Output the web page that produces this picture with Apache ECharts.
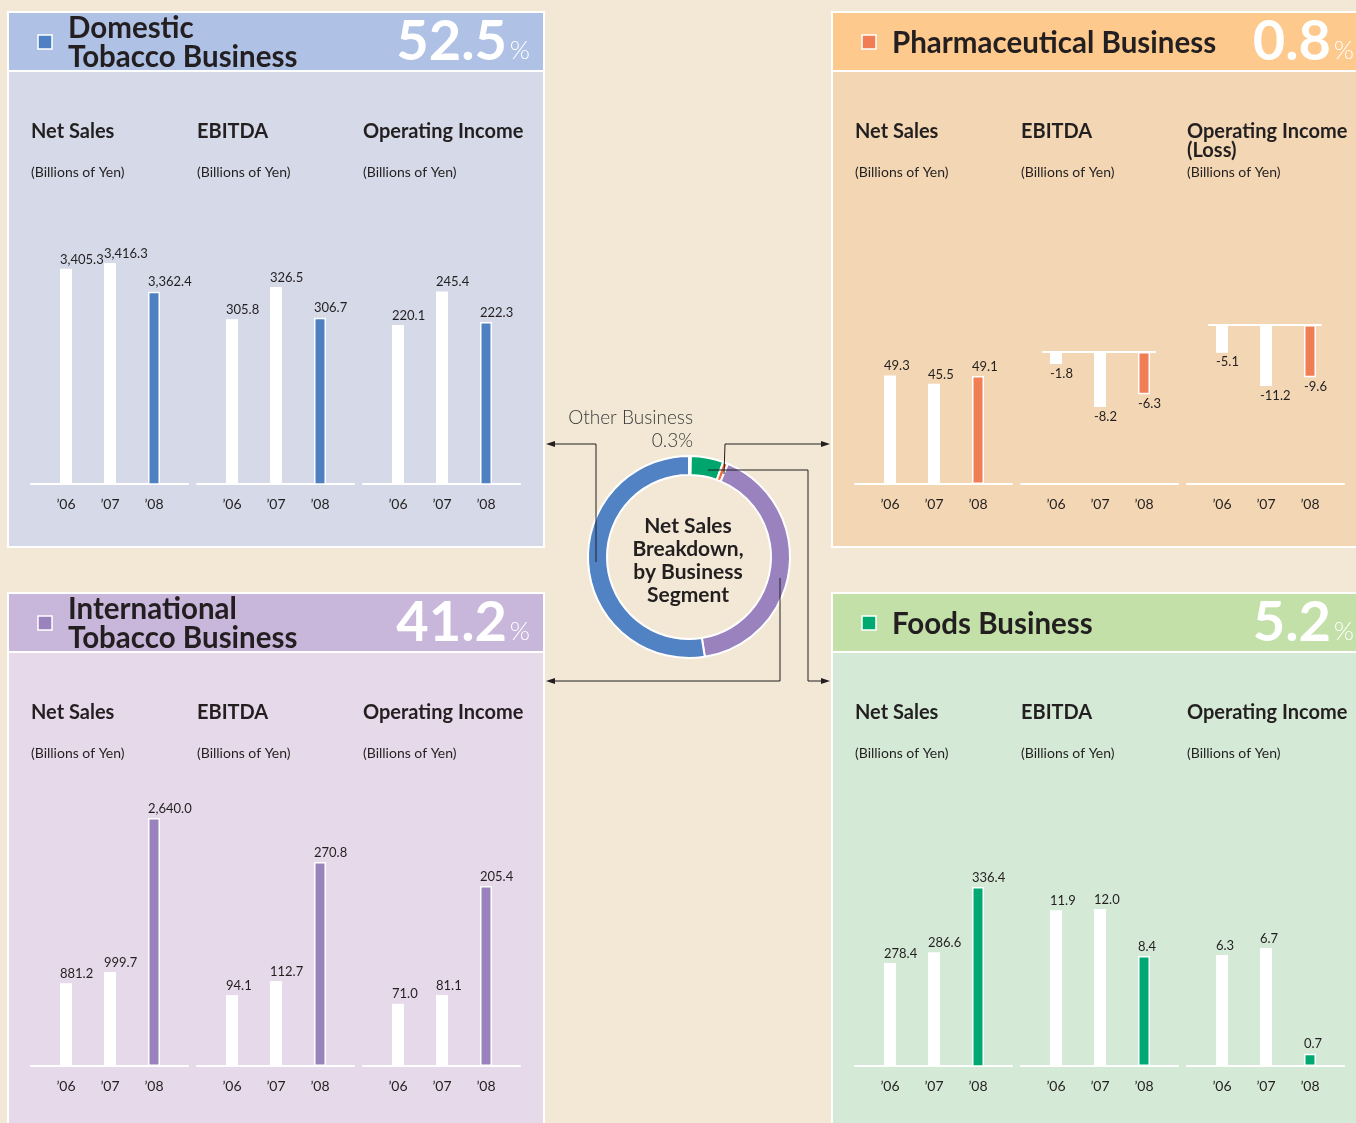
<!DOCTYPE html>
<html>
<head>
<meta charset="utf-8">
<style>
  html, body { margin: 0; padding: 0; background: #F2E8D5; }
  #chart { width: 1356px; height: 1123px; }
</style>
<script src="https://cdn.jsdelivr.net/npm/echarts@6/dist/echarts.min.js"></script>
</head>
<body>
<div id="chart"></div>
<script>
// fiscal years shown under every mini chart
const years = ['\u201906', '\u201907', '\u201908']

// Domestic Tobacco
const domesticNetSales = [3405.3, 3416.3, 3362.4]
const domesticEbitda = [305.8, 326.5, 306.7]
const domesticOpIncome = [220.1, 245.4, 222.3]
// Pharmaceutical
const pharmaNetSales = [49.3, 45.5, 49.1]
const pharmaEbitda = [-1.8, -8.2, -6.3]
const pharmaOpIncome = [-5.1, -11.2, -9.6]
// International Tobacco
const intlNetSales = [881.2, 999.7, 2640.0]
const intlEbitda = [94.1, 112.7, 270.8]
const intlOpIncome = [71.0, 81.1, 205.4]
// Foods
const foodsNetSales = [278.4, 286.6, 336.4]
const foodsEbitda = [11.9, 12.0, 8.4]
const foodsOpIncome = [6.3, 6.7, 0.7]

// net sales breakdown (donut), clockwise from 12 o'clock
const segmentNames = ['Other Business', 'Foods Business', 'Pharmaceutical Business', 'International Tobacco Business', 'Domestic Tobacco Business']
const segmentShares = [0.3, 5.2, 0.8, 41.2, 52.5]

const FONT = 'Lato'
const INK = '#231F20'
const UNIT = '(Billions of Yen)'

const panels = [
  {
    title: ['Domestic', 'Tobacco Business'], share: segmentShares[4],
    x: 8, y: 12, w: 536, h: 535, head: '#AFC1E5', body: '#D5D9E8', color: '#4F81C2',
    cols: [31, 197, 363], base: 484,
    charts: [
      { name: ['Net Sales'], data: domesticNetSales, min: 3000, max: 3471 },
      { name: ['EBITDA'], data: domesticEbitda, min: 200, max: 360.5 },
      { name: ['Operating Income'], data: domesticOpIncome, min: 100, max: 288.8 }
    ]
  },
  {
    title: ['Pharmaceutical Business'], share: segmentShares[2],
    x: 832, y: 12, w: 530, h: 535, head: '#FDC98D', body: '#F3D7B4', color: '#F07D54',
    cols: [855, 1021, 1187], base: 484,
    charts: [
      { name: ['Net Sales'], data: pharmaNetSales, min: 0, max: 113.6 },
      { name: ['EBITDA'], data: pharmaEbitda, min: -19.7, max: 0, zeroTop: 352 },
      { name: ['Operating Income', '(Loss)'], data: pharmaOpIncome, min: -29.2, max: 0, zeroTop: 325 }
    ]
  },
  {
    title: ['International', 'Tobacco Business'], share: segmentShares[3],
    x: 8, y: 593, w: 536, h: 540, head: '#C8B6DB', body: '#E6DAEA', color: '#9A82BD',
    cols: [31, 197, 363], base: 1066,
    charts: [
      { name: ['Net Sales'], data: intlNetSales, min: 0, max: 2662 },
      { name: ['EBITDA'], data: intlEbitda, min: 0, max: 332 },
      { name: ['Operating Income'], data: intlOpIncome, min: 0, max: 285.4 }
    ]
  },
  {
    title: ['Foods Business'], share: segmentShares[1],
    x: 832, y: 593, w: 530, h: 540, head: '#C4E0A9', body: '#D5EAD6', color: '#00A971',
    cols: [855, 1021, 1187], base: 1066,
    charts: [
      { name: ['Net Sales'], data: foodsNetSales, min: 200, max: 390.5 },
      { name: ['EBITDA'], data: foodsEbitda, min: 0, max: 19.1 },
      { name: ['Operating Income'], data: foodsOpIncome, min: 0, max: 14.2 }
    ]
  }
]

const fmt = v => v.toLocaleString('en-US', { minimumFractionDigits: 1, maximumFractionDigits: 1 })

const grid = []
const xAxis = []
const yAxis = []
const series = []
const graphic = []

function addGrid(g, x, y) {
  grid.push(g)
  const i = grid.length - 1
  xAxis.push(Object.assign({ gridIndex: i, type: 'category', data: years }, x))
  yAxis.push(Object.assign({ gridIndex: i, type: 'value', show: false }, y))
  return i
}

function addChart(panel, left, c) {
  const base = panel.base
  // long white baseline under each chart
  addGrid({ left: left, top: base - 10, width: 157, height: 10 }, {
    axisLine: { lineStyle: { color: '#fff', width: 2 } },
    axisTick: { show: false }, axisLabel: { show: false }
  }, {})

  const top = c.zeroTop || base - 250
  const gi = addGrid({ left: left + 13, top: top, width: 132, height: base - top }, {
    position: 'bottom',
    axisLine: { show: false, onZero: false },
    axisTick: { show: false },
    axisLabel: { margin: 13, fontSize: 14, color: INK, fontFamily: FONT }
  }, { min: c.min, max: c.max })

  series.push({
    type: 'bar', xAxisIndex: gi, yAxisIndex: gi, barWidth: 12,
    data: c.data.map((v, i) => ({
      value: v,
      itemStyle: i === 2 ? { color: panel.color, borderColor: '#fff', borderWidth: 1.5 } : { color: '#fff' },
      label: { position: v < 0 ? 'bottom' : 'top' }
    })),
    label: {
      show: true, align: 'left', offset: [-6, 0], distance: 3,
      fontSize: 13, color: INK, fontFamily: FONT,
      formatter: p => fmt(p.value)
    },
    silent: true
  })

  // zero line for the loss charts
  if (c.zeroTop) {
    addGrid({ left: left + 22, top: c.zeroTop, width: 112, height: 10 }, {
      position: 'top',
      axisLine: { onZero: false, lineStyle: { color: '#fff', width: 2 } },
      axisTick: { show: false }, axisLabel: { show: false }
    }, {})
  }

  // headings
  c.name.forEach((t, k) => {
    graphic.push({
      type: 'text', x: left, y: panel.y + 120 + k * 19, z: 10,
      style: { text: t, fill: INK, font: 'bold 20px ' + FONT, textVerticalAlign: 'middle' }
    })
  })
  graphic.push({
    type: 'text', x: left, y: panel.y + 160, z: 10,
    style: { text: UNIT, fill: INK, font: '14px ' + FONT, textVerticalAlign: 'middle' }
  })
}

panels.forEach(p => {
  graphic.push({
    type: 'rect', z: -10, shape: { x: p.x, y: p.y, width: p.w, height: p.h },
    style: { fill: p.body, stroke: '#fff', lineWidth: 2 }
  })
  graphic.push({
    type: 'rect', z: -9, shape: { x: p.x, y: p.y, width: p.w, height: 59 },
    style: { fill: p.head, stroke: '#fff', lineWidth: 2 }
  })
  graphic.push({
    type: 'rect', z: 10, shape: { x: p.x + 30, y: p.y + 23, width: 14, height: 14 },
    style: { fill: p.color, stroke: '#fff', lineWidth: 1.5 }
  })
  const ty = p.title.length === 2 ? [p.y + 16, p.y + 45] : [p.y + 31]
  p.title.forEach((t, k) => {
    graphic.push({
      type: 'text', x: p.x + 60, y: ty[k], z: 10,
      style: { text: t, fill: INK, font: 'bold 29.5px ' + FONT, textVerticalAlign: 'middle' }
    })
  })
  graphic.push({
    type: 'text', x: p.x + 499, y: p.y + 30, z: 10,
    style: { text: p.share.toFixed(1), fill: '#fff', font: 'bold 56px ' + FONT, textAlign: 'right', textVerticalAlign: 'middle' }
  })
  graphic.push({
    type: 'text', x: p.x + 522, y: p.y + 39, z: 10,
    style: { text: '%', fill: '#fff', font: '300 26px ' + FONT, textAlign: 'right', textVerticalAlign: 'middle' }
  })
  p.charts.forEach((c, i) => addChart(p, p.cols[i], c))
})

// donut centre caption and "Other Business" note
graphic.push({
  type: 'text', x: 688, y: 561, z: 10,
  style: {
    text: 'Net Sales\nBreakdown,\nby Business\nSegment', fill: INK, font: 'bold 21px ' + FONT,
    lineHeight: 23, textAlign: 'center', textVerticalAlign: 'middle'
  }
})
graphic.push({
  type: 'text', x: 693, y: 418, z: 10,
  style: { text: segmentNames[0], fill: '#3A3A3A', font: '300 19px ' + FONT, textAlign: 'right', textVerticalAlign: 'middle' }
})
graphic.push({
  type: 'text', x: 693, y: 441, z: 10,
  style: { text: segmentShares[0].toFixed(1) + '%', fill: '#3A3A3A', font: '300 19px ' + FONT, textAlign: 'right', textVerticalAlign: 'middle' }
})

// leader lines from the donut to each panel
function arrow(points, dir) {
  graphic.push({
    type: 'polyline', z: 20, shape: { points: points },
    style: { stroke: '#231F20', lineWidth: 1, fill: null }
  })
  const [ex, ey] = points[points.length - 1]
  const tip = dir < 0
    ? [[ex - 3, ey], [ex + 6, ey - 3], [ex + 6, ey + 3]]
    : [[ex + 3, ey], [ex - 6, ey - 3], [ex - 6, ey + 3]]
  graphic.push({ type: 'polygon', z: 20, shape: { points: tip }, style: { fill: '#231F20' } })
}
arrow([[596, 562], [596, 444], [549, 444]], -1)
arrow([[724, 474], [725, 444], [827, 444]], 1)
arrow([[708, 470], [808, 470], [808, 681], [827, 681]], 1)
arrow([[780, 578], [780, 681], [549, 681]], -1)

series.push({
  type: 'pie',
  center: [689, 557],
  radius: [82, 101],
  startAngle: 90,
  clockwise: true,
  silent: true,
  label: { show: false },
  labelLine: { show: false },
  itemStyle: { borderColor: '#fff', borderWidth: 2 },
  data: segmentNames.map((n, i) => ({
    name: n, value: segmentShares[i],
    itemStyle: { color: ['#FFFFFF', '#00A56E', '#EF6B3A', '#9A82BE', '#5183C4'][i] }
  })),
  z: 5
})

const chart = echarts.init(document.getElementById('chart'))
chart.setOption({
  backgroundColor: '#F2E8D5',
  animation: false,
  grid: grid,
  xAxis: xAxis,
  yAxis: yAxis,
  series: series,
  graphic: { elements: graphic }
})
</script>
</body>
</html>
